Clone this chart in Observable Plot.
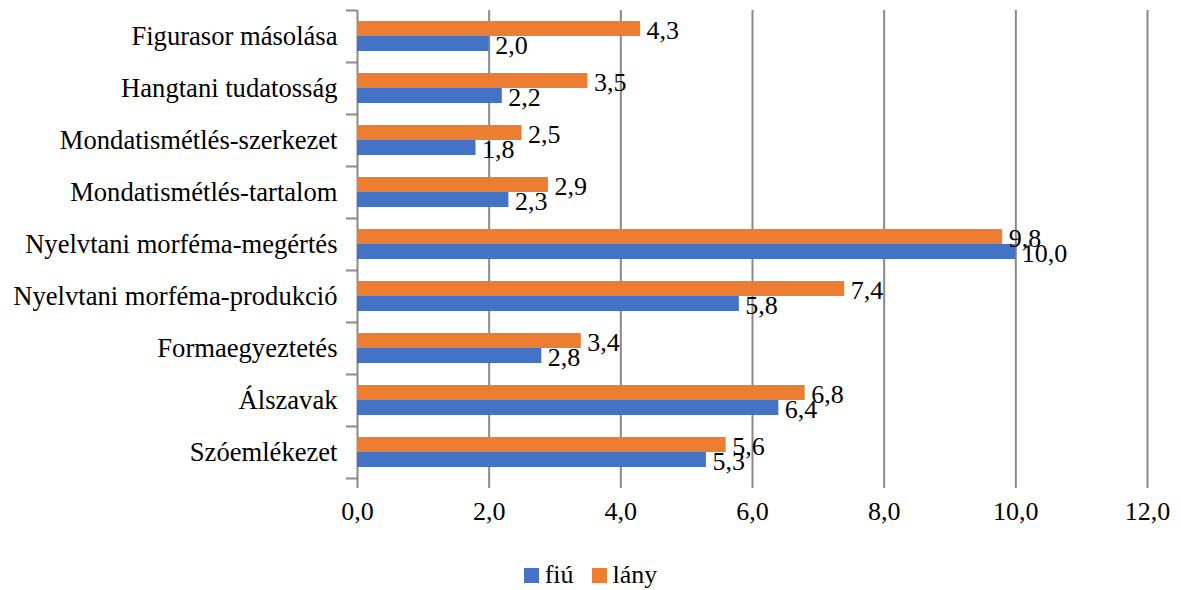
<!DOCTYPE html>
<html>
<head>
<meta charset="utf-8">
<script src="https://cdn.jsdelivr.net/npm/d3@7"></script>
<script src="https://cdn.jsdelivr.net/npm/@observablehq/plot@0.6"></script>
<style>
  body { margin: 0; background: #fff; font-family: "Liberation Serif", "Times New Roman", serif; }
  #chart svg { font-family: "Liberation Serif", "Times New Roman", serif; font-size: 26px; }
  #legend { display: flex; justify-content: center; align-items: center; height: 30px; font-size: 26px; color: #000; }
  #legend .item { display: flex; align-items: center; margin: 0 9px; }
  #legend .sw { width: 15px; height: 15px; margin-right: 6px; }
</style>
</head>
<body>
<div id="chart"></div>
<div id="legend"></div>
<script>
// Test areas, top to bottom
const categories = [
  "Figurasor másolása",
  "Hangtani tudatosság",
  "Mondatismétlés-szerkezet",
  "Mondatismétlés-tartalom",
  "Nyelvtani morféma-megértés",
  "Nyelvtani morféma-produkció",
  "Formaegyeztetés",
  "Álszavak",
  "Szóemlékezet"
];
const fiu  = [2.0, 2.2, 1.8, 2.3, 10.0, 5.8, 2.8, 6.4, 5.3];
const lany = [4.3, 3.5, 2.5, 2.9, 9.8, 7.4, 3.4, 6.8, 5.6];
const seriesNames = ["fiú", "lány"];
const seriesColors = ["#4472C4", "#ED7D31"];
const xTicks = [0, 2, 4, 6, 8, 10, 12];

const fiuRows  = categories.map((c, i) => ({category: c, series: "fiú",  value: fiu[i]}));
const lanyRows = categories.map((c, i) => ({category: c, series: "lány", value: lany[i]}));
const fmt = d => d.toFixed(1).replace(".", ",");

const W = 1181, H = 560, mt = 10, mb = 82, ml = 357, mr = 34;
const step = (H - mt - mb) / categories.length;
const grid = "#898989";
const serif = "Liberation Serif";

const chart = Plot.plot({
  width: W, height: H,
  marginTop: mt, marginBottom: mb, marginLeft: ml, marginRight: mr,
  style: {fontSize: "26px", color: "#000", background: "#fff"},
  x: {domain: [0, 12], label: null},
  y: {domain: categories, padding: 0, label: null},
  color: {domain: seriesNames, range: seriesColors},
  marks: [
    // vertical gridlines (the one at 0 doubles as the category axis line)
    Plot.ruleX(xTicks, {stroke: grid, strokeWidth: 2}),
    // category separators on the axis
    Plot.ruleY(categories, {y: d => d, x1: 0, x2: 0, insetLeft: -11, dy: -step / 2, stroke: grid, strokeWidth: 2}),
    // bottom axis line with the last separator
    Plot.ruleY(categories.slice(-1), {y: d => d, x1: 0, insetLeft: -11, dy: step / 2, stroke: grid, strokeWidth: 2}),
    Plot.barX(lanyRows, {x: "value", y: "category", fill: "series", insetTop: 11, insetBottom: 26}),
    Plot.barX(fiuRows,  {x: "value", y: "category", fill: "series", insetTop: 26, insetBottom: 11}),
    Plot.text(lanyRows, {x: "value", y: "category", text: d => fmt(d.value), textAnchor: "start", dx: 6, dy: -6, fill: "#000", fontFamily: serif, fontSize: 26}),
    Plot.text(fiuRows,  {x: "value", y: "category", text: d => fmt(d.value), textAnchor: "start", dx: 6, dy: 9, fill: "#000", fontFamily: serif, fontSize: 26}),
    Plot.axisX({ticks: xTicks, tickFormat: fmt, tickSize: 10, tickPadding: 13, stroke: grid, strokeWidth: 2, fill: "#000", fontFamily: serif, fontSize: 26}),
    Plot.axisY({tickSize: 0, tickPadding: 20, fill: "#000", fontFamily: serif, fontSize: 26.6})
  ]
});
document.getElementById("chart").append(chart);

// legend under the chart
const legend = d3.select("#legend");
seriesNames.forEach((name, i) => {
  const item = legend.append("div").attr("class", "item");
  item.append("div").attr("class", "sw").style("background", seriesColors[i]);
  item.append("span").text(name);
});
</script>
</body>
</html>
